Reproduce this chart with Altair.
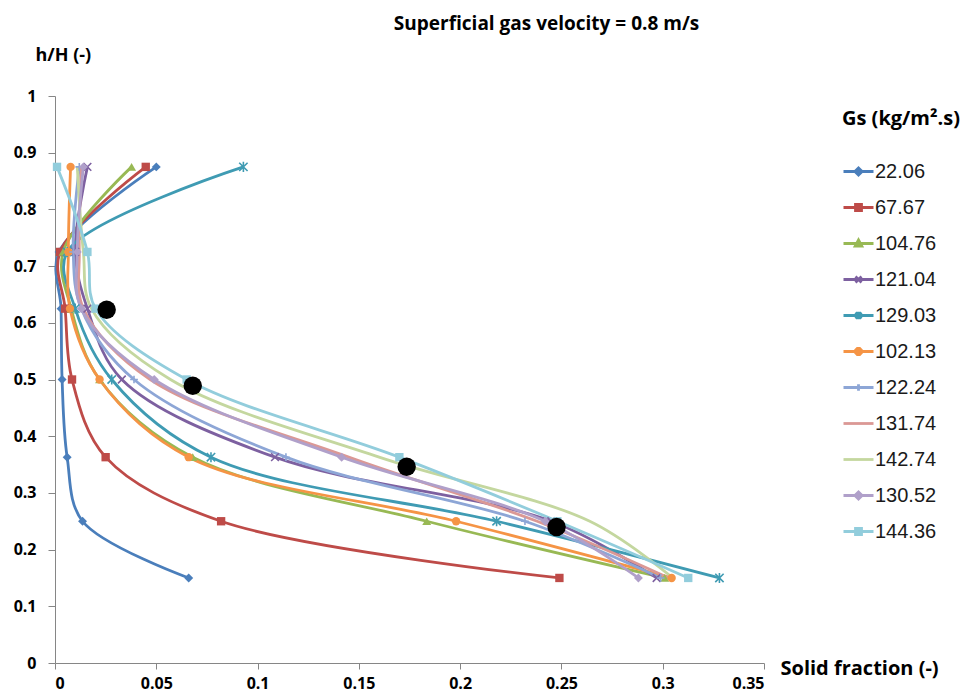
import altair as alt
import pandas as pd

# ---------------- data ----------------
series_names = ["22.06", "67.67", "104.76", "121.04", "129.03", "102.13",
                "122.24", "131.74", "142.74", "130.52", "144.36"]
series_colors = ["#4A7EBB", "#BE4B48", "#98B954", "#7D60A0", "#3F9BB3", "#F59445",
                 "#8DA6D6", "#DB9895", "#C4D79F", "#B0A0CA", "#92CDDC"]
series_markers = ["diamond", "square", "triangle", "xmark", "asterisk", "circle",
                  "plus", "none", "none", "diamond", "square"]

h_levels = [0.15, 0.25, 0.363, 0.5, 0.625, 0.725, 0.875]

sf_22_06 = [0.066, 0.0136, 0.006, 0.0035, 0.003, 0.002, 0.050]
sf_67_67 = [0.249, 0.082, 0.025, 0.0084, 0.005, 0.0025, 0.0448]
sf_104_76 = [0.301, 0.1835, 0.068, 0.022, 0.008, 0.004, 0.0378]
sf_121_04 = [0.297, 0.245, 0.1086, 0.033, 0.016, 0.010, 0.016]
sf_129_03 = [0.328, 0.218, 0.077, 0.028, 0.010, 0.006, 0.093]
sf_102_13 = [0.3044, 0.198, 0.066, 0.022, 0.0074, 0.0066, 0.0077]
sf_122_24 = [0.299, 0.232, 0.114, 0.039, 0.013, 0.009, 0.012]
sf_131_74 = [0.303, 0.238, 0.145, 0.047, 0.014, 0.012, 0.013]
sf_142_74 = [0.305, 0.264, 0.160, 0.057, 0.018, 0.014, 0.011]
sf_130_52 = [0.288, 0.242, 0.1415, 0.049, 0.013, 0.011, 0.014]
sf_144_36 = [0.3126, 0.248, 0.170, 0.065, 0.020, 0.016, 0.001]

series_values = [sf_22_06, sf_67_67, sf_104_76, sf_121_04, sf_129_03, sf_102_13,
                 sf_122_24, sf_131_74, sf_142_74, sf_130_52, sf_144_36]

dot_sf = [0.0255, 0.068, 0.1736, 0.2476]
dot_h = [0.623, 0.489, 0.346, 0.240]

x_ticks = [0, 0.05, 0.1, 0.15, 0.2, 0.25, 0.3, 0.35]
y_ticks = [0, 0.1, 0.2, 0.3, 0.4, 0.5, 0.6, 0.7, 0.8, 0.9, 1]

# ---------------- tables ----------------
rows = []
for name, vals in zip(series_names, series_values):
    for h, v in zip(h_levels, vals):
        rows.append({"series": name, "h": h, "sf": v})
df = pd.DataFrame(rows)
dots = pd.DataFrame({"sf": dot_sf, "h": dot_h})
legend_df = pd.DataFrame({"series": series_names})

# marker shapes (plot)
plot_shapes = {
    "diamond": ("diamond", True, 80),
    "square": ("square", True, 70),
    "triangle": ("triangle-up", True, 80),
    "xmark": ("M-1,-1L1,1M-1,1L1,-1", False, 60),
    "asterisk": ("M-1,-1L1,1M-1,1L1,-1M0,-1.2L0,1.2", False, 70),
    "circle": ("circle", True, 70),
    "plus": ("M-1,0L1,0M0,-1L0,1", False, 60),
}
# legend symbols: short line + marker
LINE = "M-1,0L1,0"
legend_paths = {
    "diamond": LINE + "M-0.24,0L0,-0.24L0.24,0L0,0.24Z",
    "square": LINE + "M-0.2,-0.2L0.2,-0.2L0.2,0.2L-0.2,0.2Z",
    "triangle": LINE + "M0,-0.24L0.22,0.17L-0.22,0.17Z",
    "xmark": LINE + "M-0.2,-0.2L0.2,0.2M-0.2,0.2L0.2,-0.2",
    "asterisk": LINE + "M-0.2,-0.2L0.2,0.2M-0.2,0.2L0.2,-0.2M0,-0.25L0,0.25",
    "circle": LINE + "M-0.2,-0.08L-0.08,-0.2L0.08,-0.2L0.2,-0.08L0.2,0.08L0.08,0.2L-0.08,0.2L-0.2,0.08Z",
    "plus": LINE + "M0,-0.22L0,0.22",
    "none": LINE,
}
legend_shape_range = [legend_paths[m] for m in series_markers]

FONT = "Open Sans"

x_scale = alt.Scale(domain=[0, 0.35], nice=False, zero=True)
y_scale = alt.Scale(domain=[0, 1], nice=False)

x_axis = alt.Axis(values=x_ticks, format="~g", title="Solid fraction (-)",
                  titleAngle=0, titleAlign="left", titleBaseline="middle",
                  titleX=725, titleY=5, titleFontSize=20, labelPadding=6, tickSize=6)
y_axis = alt.Axis(values=y_ticks, format="~g", title="h/H (-)",
                  titleAngle=0, titleAlign="left", titleBaseline="middle",
                  titleX=-20, titleY=-41, labelPadding=12, tickSize=7)

X = alt.X("sf:Q", scale=x_scale, axis=x_axis)
Y = alt.Y("h:Q", scale=y_scale, axis=y_axis)

layers = []
for name, col in zip(series_names, series_colors):
    ln = alt.Chart(df).transform_filter(
        alt.datum.series == name
    ).mark_line(interpolate="catmull-rom", strokeWidth=2.8, color=col).encode(
        x=X, y=Y, order=alt.Order("h:Q"),
    )
    layers.append(ln)

for name, col, mk in zip(series_names, series_colors, series_markers):
    if mk == "none":
        continue
    shp, filled, size = plot_shapes[mk]
    pts = alt.Chart(df).transform_filter(
        alt.datum.series == name
    ).mark_point(shape=shp, filled=filled, size=size, color=col, opacity=1,
                 strokeWidth=1.6).encode(x=X, y=Y)
    layers.append(pts)

black = alt.Chart(dots).mark_circle(size=340, color="black", opacity=1).encode(x=X, y=Y)
layers.append(black)

leg = alt.Legend(
    title="Gs (kg/m\u00b2.s)", orient="none", legendX=787, legendY=13,
    titleFont=FONT, titleFontSize=20, titleFontWeight="bold", titleColor="black",
    titlePadding=26, labelFont="Liberation Sans", labelFontSize=20, labelColor="#1a1a1a",
    symbolSize=900, symbolStrokeWidth=2.8, rowPadding=9, labelOffset=0,
    symbolOpacity=1,
)
# helper layer that only carries the legend (no rows are drawn)
legend_layer = alt.Chart(legend_df).transform_filter("false").mark_point(
    filled=True, opacity=1
).encode(
    fill=alt.Fill("series:N", scale=alt.Scale(domain=series_names, range=series_colors), legend=leg),
    stroke=alt.Stroke("series:N", scale=alt.Scale(domain=series_names, range=series_colors), legend=leg),
    shape=alt.Shape("series:N", scale=alt.Scale(domain=series_names, range=legend_shape_range), legend=leg),
)
layers.append(legend_layer)

chart = alt.layer(*layers).properties(
    width=709, height=567,
    autosize=alt.AutoSizeParams(type="none"),
    padding={"left": 47, "top": 88, "right": 199, "bottom": 29},
    title=alt.TitleParams("Superficial gas velocity = 0.8 m/s", anchor="middle", dx=137,
                          offset=12, font=FONT, fontSize=19, fontWeight="bold", color="black"),
).configure_view(stroke=None).configure_axis(
    grid=False, domainColor="#868686", tickColor="#868686", domainWidth=1,
    labelFont=FONT, labelFontSize=16, labelFontWeight="bold", labelColor="black",
    titleFont=FONT, titleFontSize=18, titleFontWeight="bold", titleColor="black",
)

chart.save("out.html", embed_options={"renderer": "svg", "actions": False})
